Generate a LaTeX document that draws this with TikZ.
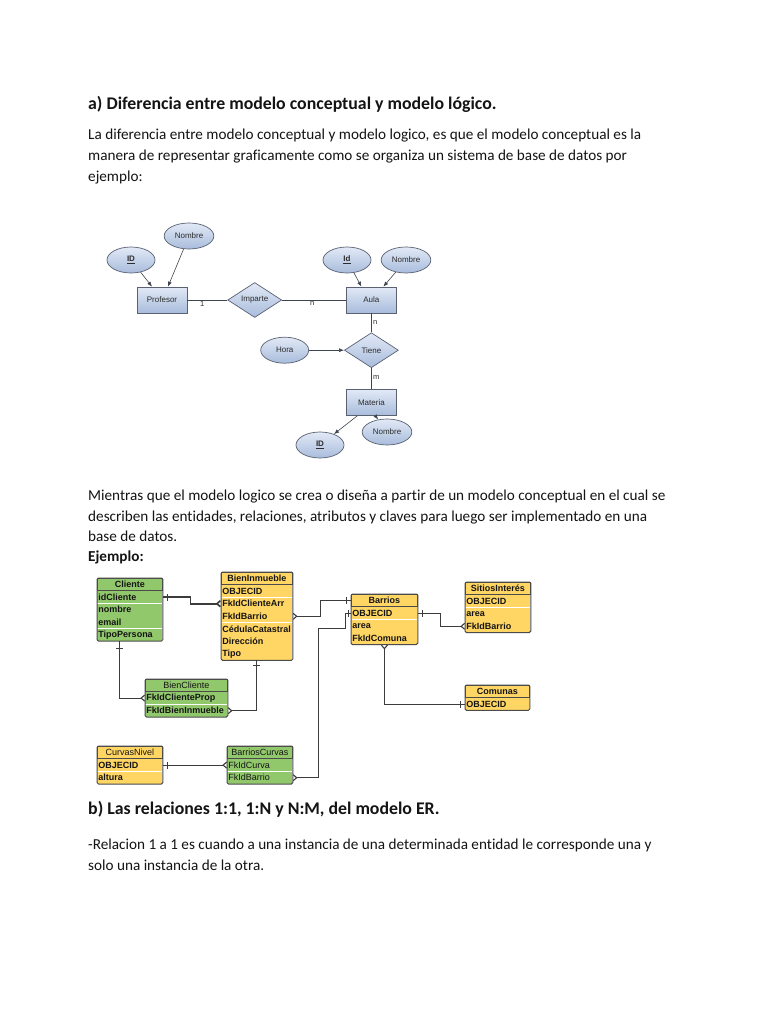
\documentclass[tikz,border=0pt]{standalone}
\usepackage{fontspec}
\setmainfont{Carlito}[Ligatures=NoCommon]
\newfontfamily\arialfont{Liberation Sans}
\usetikzlibrary{positioning,arrows.meta,shapes,calc,fit,decorations.markings}
\definecolor{DarkText}{RGB}{20,20,20}
\definecolor{ErTop}{RGB}{226,233,246}
\definecolor{ErBot}{RGB}{168,188,220}
\definecolor{ErLine}{RGB}{90,98,114}
\definecolor{TabGreen}{RGB}{146,200,108}
\definecolor{TabYellow}{RGB}{255,214,100}
\definecolor{TabLine}{RGB}{75,75,75}
\definecolor{LinkGray}{RGB}{60,60,60}

\begin{document}
\begin{tikzpicture}[x=1pt, y=-1pt,
    txt/.style={anchor=base west, inner sep=0pt, font=\fontsize{15.2}{17}\selectfont, text=DarkText},
    head/.style={txt, font=\fontsize{17.8}{20}\selectfont\bfseries},
    ent/.style={rectangle, draw=ErLine, top color=ErTop, bottom color=ErBot, line width=0.7pt,
        minimum width=50pt, minimum height=26pt, font=\arialfont\fontsize{8}{9}\selectfont, text=DarkText!90},
    attr/.style={ent, ellipse, minimum width=48pt, minimum height=26pt},
    relbox/.style={ent, diamond, minimum width=54pt, minimum height=35pt, inner sep=0pt},
    link/.style={draw=ErLine!70!black, line width=0.6pt},
    arr/.style={link, -{Latex[length=5pt,width=4pt]}},
    card/.style={font=\arialfont\fontsize{7.5}{8}\selectfont, text=DarkText!90, inner sep=1.5pt},
    tabfont/.style={font=\arialfont\fontsize{9}{10}\selectfont\bfseries, text=DarkText},
    thin/.style={font=\arialfont\fontsize{9}{10}\selectfont},
    hdr/.style={tabfont, draw=TabLine, line width=0.8pt, anchor=north west, minimum width=#1,
        minimum height=12pt, inner sep=0pt},
    fld/.style={tabfont, text width=#1, align=left, inner xsep=1pt, inner ysep=0pt, minimum height=12.2pt},
    frame/.style={draw=TabLine, line width=1pt, rounded corners=1.5pt, inner sep=0pt},
    fk/.style={draw=LinkGray, line width=1.1pt},
    one/.style={postaction={decorate, decoration={markings, mark=at position #1 with
        {\draw[-, LinkGray, line width=1pt] (0pt,-3.5pt) -- (0pt,3.5pt);}}}},
    crow/.style={-{Straight Barb[reversed, length=3.5pt, width=6pt]}},
    crowfirst/.style={{Straight Barb[reversed, length=3.5pt, width=6pt]}-},
]
\fill[white] (0,0) rectangle (768,1024);
\useasboundingbox (0,0) rectangle (768,1024);

% texto
\node[head] (ha) at (88,110) {a) Diferencia entre modelo conceptual y modelo lógico.};
\node[txt] (p1) at (88,140) {La diferencia entre modelo conceptual y modelo logico, es que el modelo conceptual es la};
\node[txt] (p2) at (88,161) {manera de representar graficamente como se organiza un sistema de base de datos por};
\node[txt] (p3) at (88,182) {ejemplo:};

% modelo conceptual
\node[ent] (prof) at (162,300) {Profesor};
\node[relbox, right=40pt of prof] (imp) {Imparte};
\node[ent, right=64pt of imp] (aula) {Aula};
\node[relbox, below=19pt of aula] (tiene) {Tiene};
\node[ent, below=21pt of tiene] (mat) {Materia};
\node[attr, left=35pt of tiene] (hora) {Hora};
\node[attr] (idp) at (131,260) {\textbf{\underline{ID}}};
\node[attr] (nomp) at (189,236) {Nombre};
\node[attr] (ida) at (347,260) {\textbf{\underline{Id}}};
\node[attr] (noma) at (406,260) {Nombre};
\node[attr] (idm) at (320,445) {\textbf{\underline{ID}}};
\node[attr] (nomm) at (387,432) {Nombre};

\draw[link] (prof) -- node[card, pos=0.37, below] (c1) {1} (imp);
\draw[link] (imp) -- node[card, pos=0.47, below] (c2) {n} (aula);
\draw[link] (aula) -- node[card, pos=0.5, right] (c3) {n} (tiene);
\draw[link] (tiene) -- node[card, pos=0.45, right] (c4) {m} (mat);
\draw[arr] (idp) -- ([xshift=-10pt]prof.north);
\draw[arr] (nomp) -- ([xshift=6pt]prof.north);
\draw[arr] (ida) -- ([xshift=-10pt]aula.north);
\draw[arr] (noma) -- ([xshift=12pt]aula.north);
\draw[arr] (hora) -- (tiene);
\draw[arr] ([xshift=-14pt]mat.south) -- (idm);
\draw[arr] ([xshift=4pt]mat.south) -- (nomm);

% texto
\node[txt] (m1) at (88,500) {Mientras que el modelo logico se crea o diseña a partir de un modelo conceptual en el cual se};
\node[txt] (m2) at (88,521) {describen las entidades, relaciones, atributos y claves para luego ser implementado en una};
\node[txt] (m3) at (88,541) {base de datos.};
\node[txt] (m4) at (88,561) {\textbf{Ejemplo:}};

% modelo logico
\node[hdr=65pt, fill=TabGreen] (cli) at (97,578) {Cliente};
\node[fld=63pt, fill=TabGreen, below=0pt of cli] (cli-1) {idCliente};
\node[fld=63pt, fill=TabGreen, below=0pt of cli-1] (cli-2) {nombre};
\node[fld=63pt, fill=TabGreen, below=0pt of cli-2] (cli-3) {email};
\node[fld=63pt, fill=TabGreen, below=0pt of cli-3] (cli-4) {TipoPersona};
\node[frame, fit=(cli)(cli-4)] (cli-box) {};

\node[hdr=71pt, fill=TabYellow] (bi) at (221,572) {BienInmueble};
\node[fld=69pt, fill=TabYellow, below=0pt of bi] (bi-1) {OBJECID};
\node[fld=69pt, fill=TabYellow, below=0pt of bi-1] (bi-2) {FkIdClienteArr};
\node[fld=69pt, fill=TabYellow, below=0pt of bi-2] (bi-3) {FkIdBarrio};
\node[fld=69pt, fill=TabYellow, below=0pt of bi-3] (bi-4) {CédulaCatastral};
\node[fld=69pt, fill=TabYellow, below=0pt of bi-4] (bi-5) {Dirección};
\node[fld=69pt, fill=TabYellow, below=0pt of bi-5] (bi-6) {Tipo};
\node[frame, fit=(bi)(bi-6)] (bi-box) {};

\node[hdr=82pt, fill=TabGreen, thin] (bc) at (145,679) {BienCliente};
\node[fld=80pt, fill=TabGreen, below=0pt of bc] (bc-1) {FkIdClienteProp};
\node[fld=80pt, fill=TabGreen, below=0pt of bc-1] (bc-2) {FkIdBienInmueble};
\node[frame, fit=(bc)(bc-2)] (bc-box) {};

\node[hdr=66pt, fill=TabYellow] (bar) at (351,594) {Barrios};
\node[fld=64pt, fill=TabYellow, below=0pt of bar] (bar-1) {OBJECID};
\node[fld=64pt, fill=TabYellow, below=0pt of bar-1] (bar-2) {area};
\node[fld=64pt, fill=TabYellow, below=0pt of bar-2] (bar-3) {FkIdComuna};
\node[frame, fit=(bar)(bar-3)] (bar-box) {};

\node[hdr=65pt, fill=TabYellow] (sit) at (465,582) {SitiosInterés};
\node[fld=63pt, fill=TabYellow, below=0pt of sit] (sit-1) {OBJECID};
\node[fld=63pt, fill=TabYellow, below=0pt of sit-1] (sit-2) {area};
\node[fld=63pt, fill=TabYellow, below=0pt of sit-2] (sit-3) {FkIdBarrio};
\node[frame, fit=(sit)(sit-3)] (sit-box) {};

\node[hdr=64pt, fill=TabYellow] (com) at (465,685) {Comunas};
\node[fld=62pt, fill=TabYellow, below=0pt of com] (com-1) {OBJECID};
\node[frame, fit=(com)(com-1)] (com-box) {};

\node[hdr=65pt, fill=TabYellow, thin] (cn) at (97,746) {CurvasNivel};
\node[fld=63pt, fill=TabYellow, below=0pt of cn] (cn-1) {OBJECID};
\node[fld=63pt, fill=TabYellow, below=0pt of cn-1] (cn-2) {altura};
\node[frame, fit=(cn)(cn-2)] (cn-box) {};

\node[hdr=65pt, fill=TabGreen, thin] (bcu) at (227,746) {BarriosCurvas};
\node[fld=63pt, fill=TabGreen, thin, below=0pt of bcu] (bcu-1) {FkIdCurva};
\node[fld=63pt, fill=TabGreen, thin, below=0pt of bcu-1] (bcu-2) {FkIdBarrio};
\node[frame, fit=(bcu)(bcu-2)] (bcu-box) {};

\draw[fk, line width=1.6pt, one=5pt, crow] (cli-1.east) -- ++(28,0) |- (bi-2.west);
\draw[fk, one=7pt, crow] ([xshift=-10pt]cli-4.south) |- (bc-1.west);
\draw[fk, one=5pt, crow] (bi-6.south) |- (bc-2.east);
\draw[fk, crowfirst, one=-5pt] (bi-3.east) -- ++(28,0) |- (bar.west);
\draw[fk, crowfirst, one=-3pt] (bcu-2.east) -| ++(26,-149) -| ([xshift=-6pt]bar-1.west) -- (bar-1.west);
\draw[fk, one=5pt, crow] (bar-1.east) -- ++(23,0) |- (sit-3.west);
\draw[fk, crowfirst, one=-5pt] (bar-3.south) |- (com-1.west);
\draw[fk, one=5pt, crow] (cn-1.east) -- (bcu-1.west);

% texto
\node[head] (hb) at (88,814) {b) Las relaciones 1:1, 1:N y N:M, del modelo ER.};
\node[txt] (r1) at (88,849) {-Relacion 1 a 1 es cuando a una instancia de una determinada entidad le corresponde una y};
\node[txt] (r2) at (88,870) {solo una instancia de la otra.};
\end{tikzpicture}
\end{document}
